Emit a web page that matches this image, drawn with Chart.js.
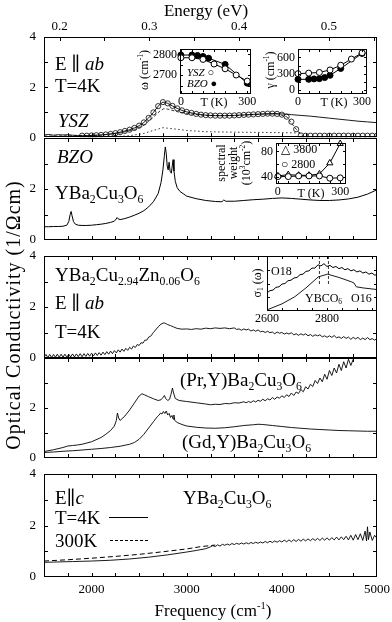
<!DOCTYPE html>
<html lang="en">
<head>
<meta charset="UTF-8" />
<title>YBa2Cu3O6 optical conductivity</title>
<script src="https://cdn.jsdelivr.net/npm/chart.js"></script>
<style>
  body { margin: 0; background: #fff; }
  #fig { position: relative; width: 392px; height: 622px; overflow: hidden; font-family: "Liberation Serif", "DejaVu Serif", serif; color: #000; }
  #plots canvas { position: absolute; }
  #text { position: absolute; left: 0; top: 0; width: 392px; height: 622px; z-index: 2; pointer-events: none; }
  .t { position: absolute; white-space: nowrap; line-height: 1; font-size: 19px; }
  .s { font-size: 12px; }
  .xs { font-size: 11px; }
  .t sub { font-size: 0.62em; vertical-align: -0.3em; line-height: 0; }
  .t sup { font-size: 0.62em; vertical-align: 0.65em; line-height: 0; }
  .c { transform: translateX(-50%); }
  .rot { transform: translate(-50%, -50%) rotate(-90deg); }
  .key { position: absolute; height: 0; }
</style>
</head>
<body>
<div id="fig">
  <div id="plots"></div>
  <div id="text">
    <!-- axis titles -->
    <div class="t c" style="left:206px; top:2px; font-size:17px;">Energy (eV)</div>
    <div class="t c" style="left:213px; top:602px; font-size:17px;">Frequency (cm<sup>-1</sup>)</div>
    <div class="t rot" style="left:13px; top:315px; font-size:20px; letter-spacing:1px;">Optical Conductivity (1/Ωcm)</div>

    <!-- panel 1 -->
    <div class="t" style="left:55px; top:54px;">E ∥ <i>ab</i></div>
    <div class="t" style="left:55px; top:76px;">T=4K</div>
    <div class="t" style="left:58px; top:111px;"><i>YSZ</i></div>
    <div class="t s rot" style="left:144px; top:70px;">ω (cm<sup>-1</sup>)</div>
    <div class="t xs" style="left:187px; top:67px;"><i>YSZ</i> ○</div>
    <div class="t xs" style="left:187px; top:78px;"><i>BZO</i> ●</div>
    <div class="t s c" style="left:214px; top:96px;">T (K)</div>
    <div class="t s rot" style="left:270px; top:70px;">γ (cm<sup>-1</sup>)</div>
    <div class="t s c" style="left:334px; top:96px;">T (K)</div>

    <!-- panel 2 -->
    <div class="t" style="left:57px; top:147px;"><i>BZO</i></div>
    <div class="t" style="left:55px; top:183px;">YBa<sub>2</sub>Cu<sub>3</sub>O<sub>6</sub></div>
    <div class="t s rot" style="left:221px; top:163px;">spectral</div>
    <div class="t s rot" style="left:233px; top:163px;">weight</div>
    <div class="t s rot" style="left:246px; top:163px;">(10<sup>3</sup>cm<sup>-2</sup>)</div>
    <div class="t s" style="left:281px; top:143px;">△ 3800</div>
    <div class="t s" style="left:281px; top:158px;">○ 2800</div>
    <div class="t s c" style="left:311px; top:187px;">T (K)</div>

    <!-- panel 3 -->
    <div class="t" style="left:55px; top:265px;">YBa<sub>2</sub>Cu<sub>2.94</sub>Zn<sub>0.06</sub>O<sub>6</sub></div>
    <div class="t" style="left:55px; top:293px;">E ∥ <i>ab</i></div>
    <div class="t" style="left:55px; top:322px;">T=4K</div>
    <div class="t s" style="left:271px; top:265px;">O18</div>
    <div class="t s" style="left:305px; top:292px;">YBCO<sub>6</sub></div>
    <div class="t s" style="left:351px; top:292px;">O16</div>
    <div class="t s rot" style="left:257px; top:283px;">σ<sub>1</sub> (ω)</div>

    <!-- panel 4 -->
    <div class="t" style="left:180px; top:370px;">(Pr,Y)Ba<sub>2</sub>Cu<sub>3</sub>O<sub>6</sub></div>
    <div class="t" style="left:182px; top:432px;">(Gd,Y)Ba<sub>2</sub>Cu<sub>3</sub>O<sub>6</sub></div>

    <!-- panel 5 -->
    <div class="t" style="left:55px; top:488px;">E∥<i>c</i></div>
    <div class="t" style="left:183px; top:488px;">YBa<sub>2</sub>Cu<sub>3</sub>O<sub>6</sub></div>
    <div class="t" style="left:55px; top:508px;">T=4K</div>
    <div class="t" style="left:55px; top:531px;">300K</div>
    <div class="key" style="left:109px; top:517px; width:39px; border-top:1px solid #000;"></div>
    <div class="key" style="left:110px; top:540px; width:38px; border-top:1px dashed #000;"></div>
  </div>
</div>

<script>
// ---- values: [frequency cm-1, sigma 1/Ωcm] ----

// panel 1: film on YSZ, measured (line), fit (circles) and two fit components
const yszMeasured = [[1500,0.09],[1550,0.11],[1600,0.08],[1650,0.1],[1700,0.09],[1750,0.1],[1800,0.08],[1850,0.07],[1900,0.06],[1950,0.06],[2000,0.07],[2050,0.08],[2100,0.09],[2150,0.11],[2200,0.13],[2250,0.16],[2300,0.2],[2350,0.25],[2400,0.3],[2450,0.37],[2500,0.46],[2550,0.59],[2600,0.77],[2650,0.99],[2700,1.24],[2730,1.35],[2750,1.4],[2770,1.39],[2800,1.35],[2850,1.25],[2900,1.15],[2950,1.07],[3000,1.01],[3050,0.97],[3100,0.93],[3150,0.9],[3200,0.88],[3300,0.86],[3400,0.86],[3500,0.87],[3600,0.89],[3700,0.91],[3800,0.93],[3900,0.94],[3950,0.94],[4000,0.93],[4050,0.92],[4100,0.9],[4200,0.87],[4300,0.84],[4400,0.8],[4500,0.76],[4600,0.72],[4700,0.68],[4800,0.64],[4900,0.61],[5000,0.58]];
const yszFit = [[1900,0.06],[1950,0.06],[2000,0.07],[2050,0.08],[2100,0.09],[2150,0.11],[2200,0.13],[2250,0.16],[2300,0.2],[2350,0.25],[2400,0.3],[2450,0.37],[2500,0.46],[2550,0.59],[2600,0.77],[2650,0.99],[2700,1.24],[2750,1.4],[2800,1.35],[2850,1.25],[2900,1.15],[2950,1.07],[3000,1.01],[3050,0.97],[3100,0.93],[3150,0.9],[3200,0.88],[3250,0.87],[3300,0.86],[3350,0.86],[3400,0.86],[3450,0.86],[3500,0.87],[3550,0.88],[3600,0.89],[3650,0.9],[3700,0.91],[3750,0.92],[3800,0.93],[3850,0.94],[3900,0.94],[3950,0.93],[4000,0.9],[4050,0.82],[4100,0.62],[4150,0.32],[4200,0.07],[4250,0.06],[4300,0.06],[4350,0.06],[4400,0.06],[4450,0.06],[4500,0.06],[4550,0.06],[4600,0.06],[4650,0.06],[4700,0.06],[4750,0.06],[4800,0.06],[4850,0.06],[4900,0.06],[4950,0.06],[5000,0.06]];
const yszCompA = [[1500,0.04],[1700,0.05],[1900,0.06],[2100,0.08],[2300,0.17],[2450,0.3],[2550,0.48],[2650,0.8],[2720,1.05],[2760,1.14],[2800,1.12],[2900,1.02],[3000,0.94],[3200,0.87],[3500,0.86],[3800,0.92],[3950,0.93],[4050,0.82],[4150,0.32],[4220,0.05]];
const yszCompB = [[2250,0.02],[2400,0.06],[2550,0.15],[2650,0.27],[2750,0.38],[2850,0.34],[3000,0.27],[3200,0.22],[3500,0.2],[3800,0.19],[4000,0.18],[4200,0.17]];

// panel 2: film on BZO
const bzo = [[1500,0.52],[1550,0.52],[1600,0.53],[1650,0.53],[1700,0.54],[1740,0.58],[1760,0.72],[1775,1.0],[1785,1.12],[1795,0.95],[1810,0.72],[1830,0.62],[1860,0.58],[1900,0.57],[1950,0.57],[2000,0.58],[2050,0.6],[2100,0.62],[2150,0.65],[2200,0.69],[2240,0.74],[2258,0.82],[2268,0.88],[2280,0.83],[2300,0.8],[2350,0.84],[2400,0.9],[2450,0.97],[2500,1.05],[2550,1.15],[2600,1.3],[2650,1.5],[2700,1.82],[2730,2.25],[2750,2.75],[2765,3.3],[2775,3.65],[2785,3.4],[2795,2.9],[2805,2.75],[2815,3.05],[2825,2.7],[2838,2.62],[2848,2.9],[2857,3.15],[2866,2.7],[2880,2.3],[2900,2.05],[2930,1.9],[2970,1.8],[3000,1.72],[3100,1.62],[3200,1.55],[3300,1.51],[3370,1.5],[3390,1.57],[3410,1.52],[3500,1.52],[3600,1.55],[3700,1.58],[3800,1.6],[3900,1.63],[4000,1.65],[4100,1.63],[4200,1.6],[4300,1.57],[4400,1.55],[4500,1.55],[4600,1.57],[4700,1.61],[4800,1.68],[4900,1.8],[5000,1.97]];

// panel 3: Zn doped crystal
const znDoped = [[1500,0.02],[1520,0.14],[1540,0.02],[1560,0.14],[1580,0.02],[1600,0.14],[1620,0.03],[1640,0.15],[1660,0.03],[1680,0.15],[1700,0.03],[1720,0.15],[1740,0.03],[1760,0.15],[1780,0.04],[1800,0.16],[1820,0.04],[1840,0.16],[1860,0.05],[1880,0.17],[1900,0.05],[1920,0.17],[1940,0.06],[1960,0.18],[1980,0.07],[2000,0.19],[2020,0.08],[2040,0.2],[2060,0.1],[2080,0.21],[2100,0.11],[2120,0.23],[2140,0.13],[2160,0.25],[2180,0.15],[2200,0.27],[2220,0.17],[2240,0.29],[2260,0.2],[2280,0.32],[2300,0.23],[2320,0.35],[2340,0.26],[2360,0.38],[2380,0.3],[2400,0.42],[2420,0.35],[2440,0.47],[2460,0.41],[2480,0.53],[2500,0.49],[2520,0.6],[2540,0.58],[2560,0.7],[2580,0.7],[2600,0.82],[2620,0.85],[2650,1.0],[2700,1.22],[2730,1.33],[2760,1.38],[2780,1.35],[2800,1.31],[2830,1.27],[2860,1.22],[2900,1.16],[2950,1.13],[3000,1.14],[3050,1.12],[3100,1.15],[3150,1.13],[3200,1.17],[3250,1.15],[3300,1.18],[3350,1.16],[3400,1.18],[3450,1.15],[3500,1.18],[3525,1.12],[3550,1.14],[3575,1.09],[3600,1.14],[3625,1.1],[3650,1.13],[3675,1.06],[3700,1.1],[3725,1.05],[3750,1.1],[3775,1.03],[3800,1.05],[3825,1.0],[3850,1.05],[3875,0.99],[3900,1.02],[3925,0.95],[3950,1.02],[3975,0.97],[4000,1.0],[4025,0.94],[4050,0.98],[4075,0.94],[4100,0.99],[4125,0.91],[4150,0.95],[4175,0.89],[4200,0.95],[4225,0.9],[4250,0.95],[4275,0.87],[4300,0.92],[4325,0.85],[4350,0.91],[4375,0.87],[4400,0.91],[4425,0.83],[4450,0.87],[4475,0.81],[4500,0.87],[4525,0.81],[4550,0.88],[4575,0.79],[4600,0.83],[4625,0.77],[4650,0.84],[4675,0.77],[4700,0.82],[4725,0.73],[4750,0.81],[4775,0.75],[4800,0.81],[4825,0.72],[4850,0.78],[4875,0.72],[4900,0.8],[4925,0.72],[4950,0.76],[4975,0.7],[5000,0.77]];

// panel 4: Pr and Gd substituted crystals
const prY = [[1500,0.26],[1600,0.33],[1700,0.42],[1750,0.48],[1800,0.5],[1850,0.52],[1900,0.55],[2000,0.65],[2100,0.82],[2150,0.95],[2200,1.1],[2240,1.28],[2260,1.5],[2272,1.8],[2285,1.6],[2300,1.5],[2350,1.68],[2400,1.92],[2450,2.2],[2500,2.48],[2530,2.57],[2560,2.52],[2600,2.45],[2650,2.37],[2700,2.3],[2730,2.33],[2750,2.42],[2765,2.5],[2780,2.38],[2800,2.3],[2820,2.35],[2835,2.55],[2850,2.8],[2862,2.6],[2880,2.38],[2920,2.3],[3000,2.26],[3100,2.21],[3200,2.16],[3250,2.13],[3300,2.15],[3350,2.14],[3400,2.18],[3450,2.17],[3500,2.21],[3550,2.2],[3600,2.25],[3625,2.21],[3650,2.26],[3675,2.22],[3700,2.29],[3725,2.24],[3750,2.31],[3775,2.27],[3800,2.35],[3825,2.29],[3850,2.37],[3875,2.32],[3900,2.42],[3925,2.35],[3950,2.44],[3975,2.39],[4000,2.49],[4025,2.42],[4050,2.53],[4075,2.46],[4100,2.6],[4125,2.5],[4150,2.64],[4175,2.58],[4200,2.74],[4225,2.65],[4250,2.85],[4275,2.76],[4300,2.95],[4325,2.86],[4350,3.1],[4375,2.98],[4400,3.2],[4425,3.05],[4450,3.35],[4475,3.15],[4500,3.5],[4525,3.3],[4550,3.6],[4575,3.4],[4600,3.75],[4625,3.5],[4650,3.85],[4675,3.6],[4700,3.95],[4725,3.7],[4750,3.95]];
const gdY = [[1500,0.22],[1600,0.24],[1700,0.27],[1800,0.29],[1900,0.32],[2000,0.35],[2100,0.38],[2200,0.42],[2300,0.47],[2400,0.55],[2450,0.62],[2500,0.75],[2550,0.95],[2600,1.2],[2650,1.45],[2690,1.65],[2710,1.72],[2725,1.8],[2740,1.76],[2755,1.86],[2770,1.78],[2785,1.88],[2800,1.72],[2815,1.78],[2830,1.62],[2845,1.7],[2858,1.55],[2865,1.72],[2875,1.5],[2900,1.42],[2950,1.34],[3000,1.28],[3100,1.23],[3200,1.2],[3300,1.19],[3400,1.21],[3500,1.25],[3600,1.3],[3700,1.33],[3750,1.35],[3800,1.34],[3900,1.3],[4000,1.26],[4100,1.22],[4200,1.19],[4300,1.16],[4400,1.14],[4500,1.12],[4600,1.1],[4700,1.09],[4800,1.08],[4900,1.07],[5000,1.07]];

// panel 5: c axis
const cAxis4K = [[1500,0.57],[1600,0.58],[1700,0.59],[1800,0.6],[1900,0.61],[2000,0.62],[2200,0.65],[2400,0.7],[2600,0.77],[2800,0.86],[3000,0.97],[3100,1.03],[3200,1.1],[3250,1.17],[3275,1.22],[3300,1.18],[3325,1.25],[3350,1.2],[3375,1.27],[3400,1.23],[3425,1.28],[3450,1.24],[3475,1.3],[3500,1.26],[3525,1.31],[3550,1.27],[3575,1.32],[3600,1.28],[3625,1.33],[3650,1.29],[3675,1.34],[3700,1.3],[3725,1.35],[3750,1.31],[3775,1.36],[3800,1.32],[3825,1.38],[3850,1.33],[3875,1.39],[3900,1.34],[3925,1.4],[3950,1.35],[3975,1.41],[4000,1.36],[4025,1.43],[4050,1.37],[4075,1.44],[4100,1.37],[4125,1.45],[4150,1.38],[4175,1.46],[4200,1.39],[4225,1.47],[4250,1.4],[4275,1.48],[4300,1.41],[4325,1.49],[4350,1.42],[4375,1.5],[4400,1.42],[4425,1.51],[4450,1.43],[4475,1.52],[4500,1.43],[4525,1.53],[4550,1.44],[4575,1.55],[4600,1.44],[4625,1.56],[4650,1.45],[4675,1.58],[4700,1.44],[4725,1.62],[4750,1.43],[4775,1.65],[4800,1.45],[4825,1.68],[4850,1.42],[4875,1.78],[4890,1.4],[4900,1.95],[4910,1.45],[4925,1.75],[4950,1.42],[4975,1.62],[5000,1.5]];
const cAxis300K = [[1500,0.62],[1750,0.67],[2000,0.73],[2250,0.8],[2500,0.88],[2750,0.98],[3000,1.09],[3150,1.18],[3300,1.24]];

// insets: temperature dependence
const omegaTempYSZ = [0, 50, 100, 150, 200, 250, 300];
const omegaYSZ = [2784, 2784, 2776, 2754, 2731, 2701, 2672];
const omegaTempBZO = [0, 50, 75, 100, 125, 200, 300];
const omegaBZO = [2797, 2797, 2795, 2790, 2782, 2752, 2662];
const gammaTempYSZ = [0, 50, 100, 150, 200, 250, 300];
const gammaYSZ = [297, 308, 320, 367, 455, 570, 687];
const gammaTempBZO = [0, 50, 75, 100, 125, 150, 200, 300];
const gammaBZO = [192, 192, 200, 205, 225, 267, 395, 675];
const weightTemp = [0, 50, 100, 150, 200, 250, 300];
const weight2800 = [41, 41, 42, 42, 42, 38.5, 39];
const weight3800 = [42, 44, 43, 43, 45, 62, 92];

// inset: isotope comparison, arbitrary units
const isoO18 = [[2600,0.33],[2610,0.37],[2620,0.38],[2630,0.43],[2640,0.44],[2650,0.49],[2660,0.5],[2670,0.55],[2680,0.56],[2690,0.6],[2700,0.61],[2710,0.66],[2720,0.67],[2730,0.72],[2740,0.73],[2750,0.78],[2760,0.78],[2770,0.84],[2780,0.82],[2790,0.86],[2800,0.81],[2810,0.83],[2820,0.79],[2830,0.81],[2840,0.77],[2850,0.79],[2860,0.75],[2870,0.77],[2880,0.73],[2890,0.75],[2900,0.71],[2910,0.73],[2920,0.69],[2930,0.71],[2940,0.67],[2950,0.69],[2960,0.65],[2967,0.67]];
const isoO16 = [[2600,0.02],[2650,0.13],[2693,0.26],[2730,0.42],[2771,0.62],[2802,0.67],[2840,0.61],[2882,0.53],[2890,0.51],[2898,0.44],[2920,0.42],[2967,0.39]];
const isoPeaks = [2775, 2805];

// tick positions and labels
const freqTicks = [1750, 2000, 2250, 2500, 2750, 3000, 3250, 3500, 3750, 4000, 4250, 4500, 4750, 5000];
const freqLabels = [2000, 3000, 4000, 5000];
const evTicks = [0.2, 0.25, 0.3, 0.35, 0.4, 0.45, 0.5, 0.55];
const evLabels = [0.2, 0.3, 0.4, 0.5];
const sigmaTicks = [0, 1, 2, 3, 4];
const sigmaLabelsFull = [0, 2, 4];
const sigmaLabelsLow = [0, 2];
const tempTicks = [0, 50, 100, 150, 200, 250, 300];
const tempLabels = [0, 300];
const omegaTicks = [2650, 2700, 2750, 2800];
const omegaLabels = [2700, 2800];
const gammaTicks = [0, 150, 300, 450, 600];
const gammaLabels = [0, 300, 600];
const weightTicks = [40, 60, 80];
const weightLabels = [40, 80];
const isoTicks = [2600, 2650, 2700, 2750, 2800, 2850, 2900, 2950];
const isoLabels = [2600, 2800];
const isoYTicks = [0.25, 0.5, 0.75];

Chart.defaults.font.family = '"Liberation Serif", "DejaVu Serif", serif';
Chart.defaults.color = '#000';

const plots = document.getElementById('plots');
const xy = pairs => pairs.map(([x, y]) => ({x, y}));
const xyT = (ts, vs) => ts.map((t, i) => ({x: t, y: vs[i]}));
const has = (list, v) => list.some(l => Math.abs(l - v) < 1e-6);

// box and inward tick marks on every side
const frame = {
  id: 'frame',
  beforeDatasetsDraw(chart, args, o) {
    if (!o.fill) return;
    const a = chart.chartArea;
    chart.ctx.fillStyle = '#fff';
    chart.ctx.fillRect(a.left, a.top, a.right - a.left, a.bottom - a.top);
  },
  afterDatasetsDraw(chart, args, o) {
    const ctx = chart.ctx, a = chart.chartArea, len = o.len || 4;
    ctx.save();
    ctx.strokeStyle = '#000';
    ctx.lineWidth = 1;
    ctx.beginPath();
    for (const s of Object.values(chart.scales)) {
      for (const t of s.ticks) {
        const p = Math.round(s.getPixelForValue(t.value)) + 0.5;
        if (s.isHorizontal()) {
          if (p < a.left + 1 || p > a.right - 1) continue;
          if (s.position === 'bottom') {
            ctx.moveTo(p, a.bottom); ctx.lineTo(p, a.bottom - len);
            if (!o.topAxis) { ctx.moveTo(p, a.top); ctx.lineTo(p, a.top + len); }
          } else {
            ctx.moveTo(p, a.top); ctx.lineTo(p, a.top + len);
          }
        } else {
          if (p < a.top + 1 || p > a.bottom - 1) continue;
          ctx.moveTo(a.left, p); ctx.lineTo(a.left + len, p);
          ctx.moveTo(a.right, p); ctx.lineTo(a.right - len, p);
        }
      }
    }
    ctx.stroke();
    ctx.strokeRect(Math.round(a.left) + 0.5, Math.round(a.top) + 0.5,
                   Math.round(a.right - a.left) - 1, Math.round(a.bottom - a.top) - 1);
    ctx.restore();
  }
};

function line(data, extra) {
  return Object.assign({data, showLine: true, borderColor: '#000', borderWidth: 1,
    pointRadius: 0, fill: false, tension: 0}, extra || {});
}

function axis(position, min, max, values, labels, size, pad, show, fmt) {
  return {
    type: 'linear', position, min, max,
    grid: {display: false, drawTicks: false}, border: {display: false},
    afterBuildTicks: s => { s.ticks = values.map(v => ({value: v})); },
    ticks: {display: show, padding: pad, font: {size}, color: '#000',
            autoSkip: false, maxRotation: 0,
            callback: v => has(labels, v) ? (fmt ? fmt(v) : String(v)) : ''}
  };
}

// box = chart area on the page, pad = room around it for labels
function plot(box, pad, datasets, scales, frameOpts) {
  const c = document.createElement('canvas');
  const w = box.r - box.l + pad.l + pad.r, h = box.b - box.t + pad.t + pad.b;
  c.width = w; c.height = h;
  c.style.width = w + 'px'; c.style.height = h + 'px';
  c.style.left = (box.l - pad.l) + 'px'; c.style.top = (box.t - pad.t) + 'px';
  plots.appendChild(c);
  let hasTop = false;
  for (const s of Object.values(scales)) {
    if (s.position === 'top') hasTop = true;
    const size = s.position === 'top' ? pad.t : s.position === 'bottom' ? pad.b : pad.l;
    s.afterFit = sc => {
      if (sc.isHorizontal()) sc.height = size; else sc.width = size;
      sc.paddingLeft = sc.paddingRight = sc.paddingTop = sc.paddingBottom = 0;
    };
  }
  return new Chart(c, {
    type: 'scatter',
    data: {datasets},
    options: {
      responsive: false, animation: false, devicePixelRatio: 1,
      layout: {padding: {left: 0, right: pad.r, top: hasTop ? 0 : pad.t, bottom: 0}},
      scales,
      plugins: {legend: {display: false}, tooltip: {enabled: false}, frame: frameOpts || {}}
    },
    plugins: [frame]
  });
}

const L = 44, R = 377;
function mainScales(yLabels, showX) {
  return {
    x: axis('bottom', 1500, 5000, freqTicks, freqLabels, 13, 5, showX),
    y: axis('left', 0, 4, sigmaTicks, yLabels, 13, 8, true)
  };
}

// panel 1 with energy axis on top
const p1 = mainScales(sigmaLabelsFull, false);
p1.xe = axis('top', 0.1827, 0.5535, evTicks, evLabels, 13, 3, true, v => v.toFixed(1));
plot({l: L, t: 37, r: R, b: 138}, {l: 44, t: 37, r: 15, b: 4}, [
  line(xy(yszMeasured), {borderWidth: 0.9}),
  {data: xy(yszFit), showLine: false, pointStyle: 'circle', pointRadius: 2.6,
   pointBorderWidth: 0.8, pointBorderColor: '#000', pointBackgroundColor: 'rgba(255,255,255,0)'},
  line(xy(yszCompA), {borderWidth: 0.8, borderDash: [3, 2]}),
  line(xy(yszCompB), {borderWidth: 0.8, borderDash: [1.5, 2.5]})
], p1, {topAxis: true});

plot({l: L, t: 138, r: R, b: 240}, {l: 44, t: 4, r: 15, b: 4},
  [line(xy(bzo))], mainScales(sigmaLabelsLow, false));

plot({l: L, t: 256, r: R, b: 358}, {l: 44, t: 6, r: 15, b: 4},
  [line(xy(znDoped), {borderWidth: 0.9})], mainScales(sigmaLabelsFull, false));

plot({l: L, t: 358, r: R, b: 458}, {l: 44, t: 4, r: 15, b: 6},
  [line(xy(prY), {borderWidth: 0.9}), line(xy(gdY), {borderWidth: 0.9})],
  mainScales(sigmaLabelsLow, false));

plot({l: L, t: 474, r: R, b: 577}, {l: 44, t: 6, r: 15, b: 22},
  [line(xy(cAxis4K), {borderWidth: 0.9}), line(xy(cAxis300K), {borderWidth: 1, borderDash: [5, 3]})],
  mainScales(sigmaLabelsFull, true));

// insets
const openDot = {pointStyle: 'circle', pointRadius: 3, pointBorderWidth: 1,
  pointBorderColor: '#000', pointBackgroundColor: '#fff', clip: false};
const fullDot = {pointStyle: 'circle', pointRadius: 3, pointBorderWidth: 1,
  pointBorderColor: '#000', pointBackgroundColor: '#000', clip: false};
const triDot = {pointStyle: 'triangle', pointRadius: 3.6, pointBorderWidth: 1,
  pointBorderColor: '#000', pointBackgroundColor: '#fff', clip: false};

plot({l: 180, t: 46, r: 254, b: 94}, {l: 32, t: 2, r: 2, b: 12}, [
  line(xyT(omegaTempYSZ, omegaYSZ), openDot),
  line(xyT(omegaTempBZO, omegaBZO), fullDot)
], {
  x: axis('bottom', -4, 317, tempTicks, tempLabels, 12, 1, true),
  y: axis('left', 2610, 2826, omegaTicks, omegaLabels, 12, 3, true)
}, {fill: true, len: 3});

plot({l: 298, t: 46, r: 370, b: 94}, {l: 26, t: 2, r: 2, b: 12}, [
  line(xyT(gammaTempYSZ, gammaYSZ), openDot),
  line(xyT(gammaTempBZO, gammaBZO), fullDot)
], {
  x: axis('bottom', 0, 323, tempTicks, tempLabels, 12, 1, true),
  y: axis('left', -82, 758, gammaTicks, gammaLabels, 12, 3, true)
}, {fill: true, len: 3});

plot({l: 276, t: 140, r: 349, b: 184}, {l: 20, t: 2, r: 2, b: 12}, [
  line(xyT(weightTemp, weight2800), openDot),
  line(xyT(weightTemp, weight3800), triDot)
], {
  x: axis('bottom', -9, 328, tempTicks, tempLabels, 12, 1, true),
  y: axis('left', 29.5, 93, weightTicks, weightLabels, 12, 3, true)
}, {fill: true, len: 3});

plot({l: 267, t: 256, r: 377, b: 311}, {l: 16, t: 2, r: 15, b: 12}, [
  line(xy(isoO18), {borderWidth: 1}),
  line(xy(isoO16), {borderWidth: 0.9}),
  line([{x: isoPeaks[0], y: 1}, {x: isoPeaks[0], y: 0.47}], {borderWidth: 0.8, borderDash: [3, 2]}),
  line([{x: isoPeaks[1], y: 1}, {x: isoPeaks[1], y: 0.47}], {borderWidth: 0.8, borderDash: [3, 2]})
], {
  x: axis('bottom', 2600, 2967, isoTicks, isoLabels, 12, 1, true),
  y: axis('left', 0, 1, isoYTicks, [], 12, 3, false)
}, {fill: true, len: 3});
</script>
</body>
</html>
